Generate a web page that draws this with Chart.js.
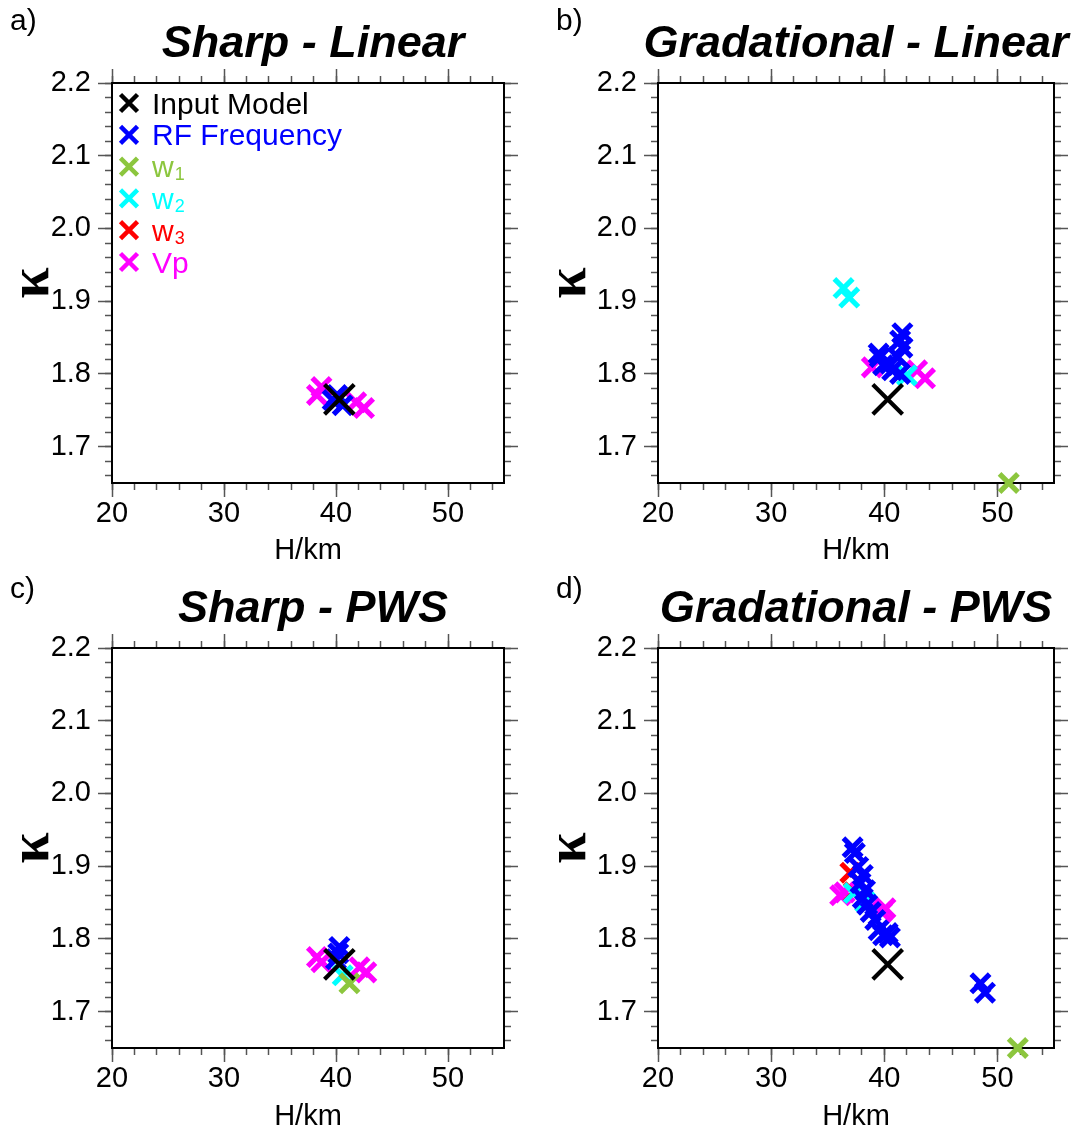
<!DOCTYPE html>
<html>
<head>
<meta charset="utf-8">
<script src="https://cdn.jsdelivr.net/npm/chart.js@4/dist/chart.umd.min.js"></script>
<style>
html,body{margin:0;padding:0;background:#fff;}
#page{position:relative;width:1077px;height:1132px;overflow:hidden;background:#fff;font-family:"Liberation Sans",Arial,Helvetica,sans-serif;}
#page canvas{position:absolute;}
.plab{position:absolute;font-size:30px;line-height:30px;color:#000;font-family:"Liberation Sans",Arial,sans-serif;z-index:5;}
</style>
</head>
<body>
<div id="page"></div>
<script>
// ---------------- data ----------------
const seriesNames = ['Input Model', 'RF Frequency', 'w₁', 'w₂', 'w₃', 'Vp'];
const legendMain = ['Input Model', 'RF Frequency', 'w', 'w', 'w', 'Vp'];
const legendSub = ['', '', '1', '2', '3', ''];
const seriesColors = ['#000000', '#0000ff', '#8cc63e', '#00ffff', '#ff0000', '#ff00ff'];
const panelTitles = ['Sharp - Linear', 'Gradational - Linear', 'Sharp - PWS', 'Gradational - PWS'];
const panelLetters = ['a)', 'b)', 'c)', 'd)'];
const xTickLabels = ['20', '30', '40', '50'];
const yTickLabels = ['1.7', '1.8', '1.9', '2.0', '2.1', '2.2'];
const xRange = [20, 55];
const yRange = [1.65, 2.2];
const xMinorStep = 2;
const yMinorStep = 0.02;

// [H (km), kappa]
const inputModel = [[40.3, 1.765]];

const sharpLinearRF = [[40.1, 1.771], [39.7, 1.764], [40.6, 1.757]];
const sharpLinearW1 = [];
const sharpLinearW2 = [];
const sharpLinearW3 = [];
const sharpLinearVp = [[38.7, 1.782], [38.3, 1.771], [41.8, 1.761], [42.5, 1.753]];

const gradLinearRF = [[41.6, 1.856], [41.4, 1.846], [41.6, 1.836], [41.2, 1.823], [39.6, 1.823],
                      [39.9, 1.812], [40.7, 1.805], [41.4, 1.800], [40.5, 1.814], [39.5, 1.828]];
const gradLinearW1 = [[51.0, 1.65]];
const gradLinearW2 = [[36.4, 1.918], [36.9, 1.905], [42.0, 1.798]];
const gradLinearW3 = [];
const gradLinearVp = [[38.9, 1.809], [42.9, 1.805], [43.6, 1.794]];

const sharpPwsRF = [[40.3, 1.789], [40.2, 1.780], [40.0, 1.772]];
const sharpPwsW1 = [[41.2, 1.739]];
const sharpPwsW2 = [[40.6, 1.750]];
const sharpPwsW3 = [];
const sharpPwsVp = [[38.3, 1.775], [38.7, 1.768], [42.1, 1.761], [42.7, 1.754]];

const gradPwsRF = [[37.2, 1.926], [37.4, 1.918], [37.7, 1.899], [38.1, 1.888], [37.9, 1.877],
                   [38.3, 1.867], [38.1, 1.856], [38.5, 1.847], [38.8, 1.837], [39.2, 1.826],
                   [39.5, 1.812], [39.9, 1.805], [40.3, 1.808], [40.5, 1.802],
                   [48.5, 1.739], [48.9, 1.726]];
const gradPwsW1 = [[51.8, 1.65]];
const gradPwsW2 = [[37.3, 1.863], [38.3, 1.851]];
const gradPwsW3 = [[37.0, 1.891], [37.3, 1.864]];
const gradPwsVp = [[36.1, 1.860], [36.5, 1.864], [40.1, 1.842], [39.8, 1.837]];

const panelSeries = [
  [inputModel, sharpLinearRF, sharpLinearW1, sharpLinearW2, sharpLinearW3, sharpLinearVp],
  [inputModel, gradLinearRF, gradLinearW1, gradLinearW2, gradLinearW3, gradLinearVp],
  [inputModel, sharpPwsRF, sharpPwsW1, sharpPwsW2, sharpPwsW3, sharpPwsVp],
  [inputModel, gradPwsRF, gradPwsW1, gradPwsW2, gradPwsW3, gradPwsVp]
];

// ---------------- layout ----------------
// Each canvas is sized so that its full-width title box is centred where the
// reference title sits; the chart area is fixed through the axis sizes.
const FONT = '"Liberation Sans", Arial, Helvetica, sans-serif';
const geom = [
  {left: 0,   top: 0,   w: 626, h: 565, ca: {l: 112, r: 504, t: 83}, kx: 34, hy: 551, lx: 10,  ly: 5},
  {left: 550, top: 0,   w: 612, h: 565, ca: {l: 108, r: 504, t: 83}, kx: 21, hy: 551, lx: 556, ly: 5},
  {left: 0,   top: 565, w: 626, h: 567, ca: {l: 112, r: 504, t: 83}, kx: 34, hy: 552, lx: 10,  ly: 573},
  {left: 550, top: 565, w: 612, h: 567, ca: {l: 108, r: 504, t: 83}, kx: 21, hy: 552, lx: 556, ly: 573}
];
const CA_BOTTOM = 483;
const TITLE_SIZE = 45, TITLE_CY = 45;
const KAPPA_SIZE = 56;

function tickList(a, b, step) {
  const out = [];
  const n = Math.round((b - a) / step);
  for (let i = 0; i <= n; i++) out.push(Math.round((a + i * step) * 1000) / 1000);
  return out;
}
const xMajorTicks = xTickLabels.map(Number);
const yMajorTicks = yTickLabels.map(Number);
const xMinorTicks = tickList(Math.ceil(xRange[0] / xMinorStep) * xMinorStep, Math.floor(xRange[1] / xMinorStep) * xMinorStep, xMinorStep);
const yMinorTicks = tickList(1.66, 2.2, yMinorStep);

const insideLegend = {
  id: 'insideLegend',
  afterDatasetsDraw(chart, args, opts) {
    if (!opts || !opts.show) return;
    const ctx = chart.ctx, ca = chart.chartArea;
    ctx.save();
    seriesNames.forEach((name, i) => {
      const cy = ca.top + 20 + i * 31.8;
      const cx = ca.left + 17;
      const a = 8.5;
      ctx.strokeStyle = seriesColors[i];
      ctx.lineWidth = 4.5;
      ctx.beginPath();
      ctx.moveTo(cx - a, cy - a); ctx.lineTo(cx + a, cy + a);
      ctx.moveTo(cx - a, cy + a); ctx.lineTo(cx + a, cy - a);
      ctx.stroke();
      ctx.fillStyle = seriesColors[i];
      ctx.textAlign = 'left';
      ctx.textBaseline = 'alphabetic';
      ctx.font = '30px ' + FONT;
      const tx = ca.left + 40, ty = cy + 10.5;
      ctx.fillText(legendMain[i], tx, ty);
      if (legendSub[i]) {
        const w = ctx.measureText(legendMain[i]).width;
        ctx.font = '18px ' + FONT;
        ctx.fillText(legendSub[i], tx + w + 1, ty + 3);
      }
    });
    ctx.restore();
  }
};

function axis(position, tickValues, major, weight, extra) {
  const isX = position === 'top' || position === 'bottom';
  const base = {
    type: 'linear',
    position: position,
    weight: weight,
    min: isX ? xRange[0] : yRange[0],
    max: isX ? xRange[1] : yRange[1],
    bounds: 'data',
    grid: {
      display: true, drawOnChartArea: false, drawTicks: true,
      tickLength: major ? 14 : 7, tickWidth: 1.5, tickColor: '#555', color: '#555'
    },
    border: major ? {display: true, color: '#000', width: 2} : {display: false},
    ticks: {display: false, autoSkip: false, maxRotation: 0},
    title: {display: false},
    afterBuildTicks: s => { s.ticks = tickValues.map(v => ({value: v})); }
  };
  return Object.assign(base, extra || {});
}

const page = document.getElementById('page');

geom.forEach((g, p) => {
  const cv = document.createElement('canvas');
  cv.width = g.w; cv.height = g.h;
  cv.style.left = g.left + 'px'; cv.style.top = g.top + 'px';
  cv.style.width = g.w + 'px'; cv.style.height = g.h + 'px';
  page.appendChild(cv);

  const datasets = seriesNames.map((name, i) => ({
    label: name,
    data: panelSeries[p][i].map(v => ({x: v[0], y: v[1]})),
    pointStyle: 'crossRot',
    pointRadius: i === 0 ? 21 : 13,
    pointBorderWidth: i === 0 ? 4.2 : 5.2,
    pointBorderColor: seriesColors[i],
    pointBackgroundColor: seriesColors[i],
    showLine: false,
    clip: false
  }));

  const topH = g.ca.t - (TITLE_CY - TITLE_SIZE / 2) - TITLE_SIZE;
  const botH = g.h - CA_BOTTOM;

  const scales = {
    x: axis('bottom', xMajorTicks, true, 1, {
      ticks: {display: true, autoSkip: false, maxRotation: 0,
              padding: 0, color: '#000', font: {family: FONT, size: 29},
              callback: v => (xTickLabels.includes(String(v)) ? String(v) : '')},
      title: {display: true, text: 'H/km', color: '#000', font: {family: FONT, size: 29, lineHeight: 1},
              padding: {top: 0, bottom: g.h - g.hy - 14.5}},
      afterFit: s => { s.height = botH; }
    }),
    xm: axis('bottom', xMinorTicks, false, 0, {afterFit: s => { s.height = 0; }}),
    xt: axis('top', xMajorTicks, true, 1, {afterFit: s => { s.height = topH; }}),
    xtm: axis('top', xMinorTicks, false, 0, {afterFit: s => { s.height = 0; }}),
    y: axis('left', yMajorTicks, true, 1, {
      ticks: {display: true, autoSkip: false,
              padding: 7, color: '#000', font: {family: FONT, size: 29},
              callback: v => { const s = Number(v).toFixed(1); return yTickLabels.includes(s) ? s : ''; }},
      title: {display: true, text: 'κ', color: '#000',
              font: {family: '"Liberation Serif", "DejaVu Serif", serif', size: KAPPA_SIZE, weight: 'bold', lineHeight: 1},
              padding: {top: g.kx - KAPPA_SIZE / 2, bottom: 0}},
      afterFit: s => { s.width = g.ca.l; }
    }),
    ym: axis('left', yMinorTicks, false, 0, {afterFit: s => { s.width = 0; }}),
    yr: axis('right', yMajorTicks, true, 1, {afterFit: s => { s.width = g.w - g.ca.r; }}),
    yrm: axis('right', yMinorTicks, false, 0, {afterFit: s => { s.width = 0; }})
  };

  new Chart(cv, {
    type: 'scatter',
    data: {datasets: datasets},
    options: {
      responsive: false,
      animation: false,
      events: [],
      layout: {padding: 0},
      scales: scales,
      plugins: {
        legend: {display: false},
        tooltip: {enabled: false},
        title: {
          display: true, text: panelTitles[p], fullSize: true, color: '#000',
          font: {family: FONT, size: TITLE_SIZE, weight: 'bold', style: 'italic', lineHeight: 1},
          padding: {top: TITLE_CY - TITLE_SIZE / 2, bottom: 0}
        },
        insideLegend: {show: p === 0}
      }
    },
    plugins: [insideLegend]
  });
});

geom.forEach((g, p) => {
  const lab = document.createElement('div');
  lab.className = 'plab';
  lab.style.left = g.lx + 'px';
  lab.style.top = g.ly + 'px';
  lab.textContent = panelLetters[p];
  page.appendChild(lab);
});
</script>
</body>
</html>
